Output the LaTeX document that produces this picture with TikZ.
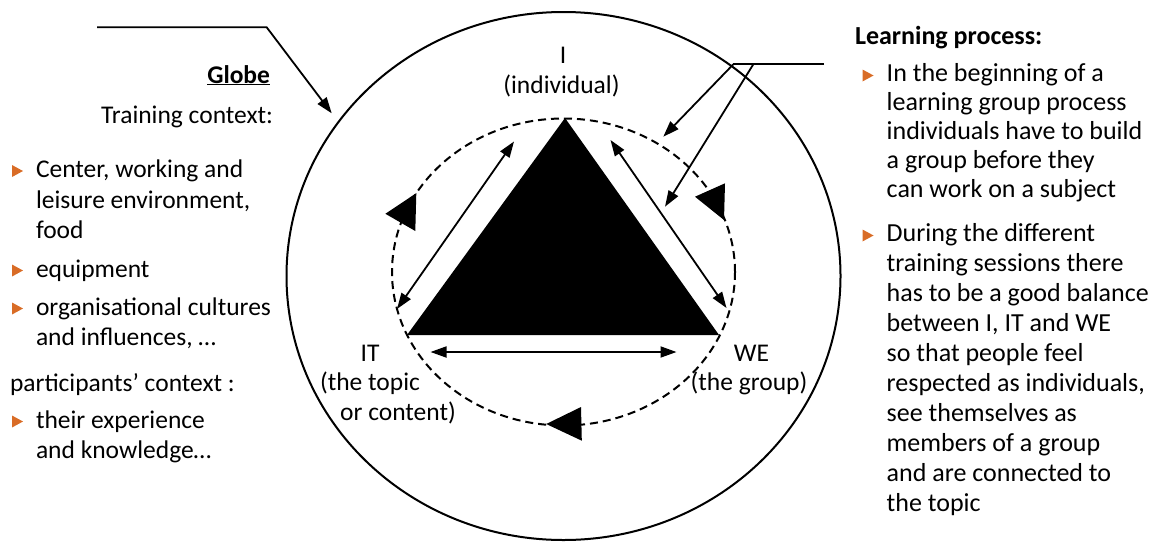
\documentclass[tikz,border=0pt]{standalone}
\usepackage{fontspec}
\setmainfont{Carlito}
\usetikzlibrary{arrows.meta}
\definecolor{bulcol}{RGB}{217,108,38}
\tikzset{
  txt/.style={inner sep=0pt, outer sep=0pt, font=\fontsize{25.5}{30}\selectfont, align=left, anchor=base west},
  rtxt/.style={txt, font=\fontsize{26}{30}\selectfont},
  lbl/.style={inner sep=0pt, outer sep=0pt, font=\fontsize{25.5}{30}\selectfont, anchor=base},
  ring/.style={line width=2pt},
  dashring/.style={line width=2pt, dash pattern=on 8pt off 5pt},
  arr/.style={line width=1.8pt, -{Triangle[length=16pt,width=11pt]}},
  darr/.style={line width=1.8pt, {Triangle[length=16pt,width=11pt]}-{Triangle[length=16pt,width=11pt]}},
  bigtip/.style={fill=black},
  bul/.pic={\fill[bulcol] (-5.5,-6) -- (5.5,0) -- (-5.5,6) -- cycle;},
}
\begin{document}
\begin{tikzpicture}[x=1pt,y=-1pt]
\useasboundingbox (0,0) rectangle (1158,541);
% globe and dashed ring
\draw[ring] (563.5,276) ellipse [x radius=277pt, y radius=264pt];
\draw[dashring] (563.5,272) ellipse [x radius=171.5pt, y radius=153.5pt];
% triangle
\coordinate (A) at (565,118);
\coordinate (B) at (407,335);
\coordinate (C) at (719,335);
\fill (A) -- (B) -- (C) -- cycle;
% double arrows along the sides
\coordinate (l1) at (397,309);
\coordinate (l2) at (514,141.5);
\coordinate (r1) at (610.5,140);
\coordinate (r2) at (726.5,308);
\coordinate (b1) at (430.5,352);
\coordinate (b2) at (676.5,352);
\draw[darr] (l1) -- (l2);
\draw[darr] (r1) -- (r2);
\draw[darr] (b1) -- (b2);
% arrowheads on the dashed ring
\fill[bigtip] (385.4,213.8) -- (416.3,193.1) -- (415.3,231) -- cycle;
\fill[bigtip] (695,196.7) -- (725,183.3) -- (724,220) -- cycle;
\fill[bigtip] (546.2,424) -- (581,407) -- (581.8,440.7) -- cycle;
% pointers
\coordinate (gp0) at (97,27.3);
\coordinate (gp1) at (266.7,27.3);
\coordinate (gp2) at (331.7,113.3);
\draw[arr] (gp0) -- (gp1) -- (gp2);
\coordinate (lp0) at (824,64.3);
\coordinate (lp1) at (733.3,64.3);
\coordinate (lp2) at (753.3,64.3);
\coordinate (lt1) at (663.3,136.7);
\coordinate (lt2) at (665,206.7);
\draw[ring] (lp0) -- (lp1);
\draw[arr] (lp1) -- (lt1);
\draw[arr] (lp2) -- (lt2);
% labels in the diagram
\node[lbl] (I) at (563,63) {I};
\node[lbl] (ind) at (561.5,93) {(individual)};
\node[lbl] (IT) at (370,361) {IT};
\node[lbl] (itt) at (370,390) {(the topic};
\node[lbl] (itc) at (398,420) {or content)};
\node[lbl] (WE) at (751.5,361) {WE};
\node[lbl] (weg) at (749,390) {(the group)};
% left column (anchor = baseline of the last line)
\node[txt, anchor=base east] (globe) at (270,83) {\underline{\textbf{Globe}}};
\node[txt, anchor=base east] (tc) at (273,123) {Training context:};
\node[txt, font=\fontsize{25.5}{30.5}\selectfont] (lc1) at (36,238.5) {Center, working and\\leisure environment,\\food};
\node[txt] (lc2) at (36,277) {equipment};
\node[txt] (lc3) at (36,345) {organisational cultures\\and influences, …};
\node[txt] (pc) at (10,391) {participants’ context :};
\node[txt] (lc4) at (36,458) {their experience\\and knowledge…};
\pic at (17.5,171) {bul};
\pic at (17.5,270.5) {bul};
\pic at (17.5,308.5) {bul};
\pic at (17.5,421.5) {bul};
% right column
\node[rtxt] (lp) at (855,44.5) {\textbf{Learning process:}};
\node[rtxt, font=\fontsize{26}{29}\selectfont] (rc1) at (886.7,197.5) {In the beginning of a\\learning group process\\individuals have to build\\a group before they\\can work on a subject};
\node[rtxt] (rc2) at (886.7,511.5) {During the different\\training sessions there\\has to be a good balance\\between I, IT and WE\\so that people feel\\respected as individuals,\\see themselves as\\members of a group\\and are connected to\\the topic};
\pic at (868,75.5) {bul};
\pic at (868,235.5) {bul};
\end{tikzpicture}
\end{document}
